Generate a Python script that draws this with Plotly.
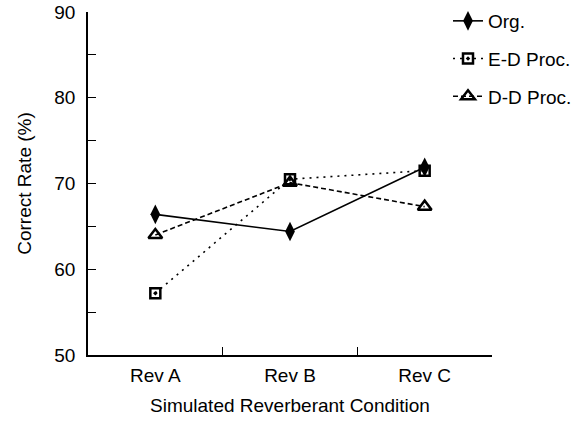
import plotly.graph_objects as go

categories = ["Rev A", "Rev B", "Rev C"]
org = [66.4, 64.4, 71.9]
ed_proc = [57.2, 70.5, 71.5]
dd_proc = [64.0, 70.1, 67.3]
series_names = ["Org.", "E-D Proc.", "D-D Proc."]
y_tickvals = [50, 55, 60, 65, 70, 75, 80, 85, 90]
y_ticktext = ["50", "", "60", "", "70", "", "80", "", "90"]

FONT = "Liberation Sans, Arial, sans-serif"
FS = 19

fig = go.Figure()
fig.add_trace(go.Scatter(
    x=categories, y=org, name=series_names[0], legendgroup="a",
    mode="lines+markers",
    line=dict(color="black", width=1.6, dash="solid"),
    marker=dict(symbol="diamond-tall", size=14, color="black"),
))
fig.add_trace(go.Scatter(
    x=categories, y=ed_proc, name=series_names[1], legendgroup="b",
    mode="lines+markers",
    line=dict(color="black", width=1.6, dash="2px,5px"),
    marker=dict(symbol="square-open-dot", size=10, color="black",
                line=dict(width=2.5, color="black")),
))
fig.add_trace(go.Scatter(
    x=categories, y=dd_proc, name=series_names[2], legendgroup="c",
    mode="lines+markers",
    line=dict(color="black", width=1.6, dash="5px,3px"),
    marker=dict(symbol="triangle-up-open", size=12, color="black",
                line=dict(width=2.5, color="black")),
))

fig.update_layout(
    width=584, height=422,
    margin=dict(l=88, r=92, t=12, b=67, autoexpand=False),
    paper_bgcolor="white", plot_bgcolor="white",
    font=dict(family=FONT, size=FS, color="black"),
    showlegend=True,
    legend=dict(x=448 / 584, y=1 - 2 / 422, xref="container", yref="container",
                xanchor="left", yanchor="top",
                bgcolor="rgba(0,0,0,0)", borderwidth=0,
                font=dict(size=FS), tracegroupgap=10,
                traceorder="grouped"),
    xaxis=dict(
        type="category", range=[-0.5, 2.5],
        showline=True, linecolor="black", linewidth=1.6,
        ticks="inside", ticklen=8, tickwidth=1.4, tickcolor="black",
        tickson="boundaries", showgrid=False, zeroline=False,
        title=dict(text="Simulated Reverberant Condition", standoff=14,
                   font=dict(size=FS)),
        tickfont=dict(size=FS), ticklabelstandoff=2,
    ),
    yaxis=dict(
        range=[50, 90], showline=True, linecolor="black", linewidth=1.6,
        ticks="inside", ticklen=8, tickwidth=1.4, tickcolor="black",
        tickvals=y_tickvals, ticktext=y_ticktext,
        showgrid=False, zeroline=False,
        title=dict(text="Correct Rate (%)", standoff=18, font=dict(size=FS)),
        tickfont=dict(size=FS), ticklabelstandoff=7,
    ),
)

fig.write_html("out.html")
